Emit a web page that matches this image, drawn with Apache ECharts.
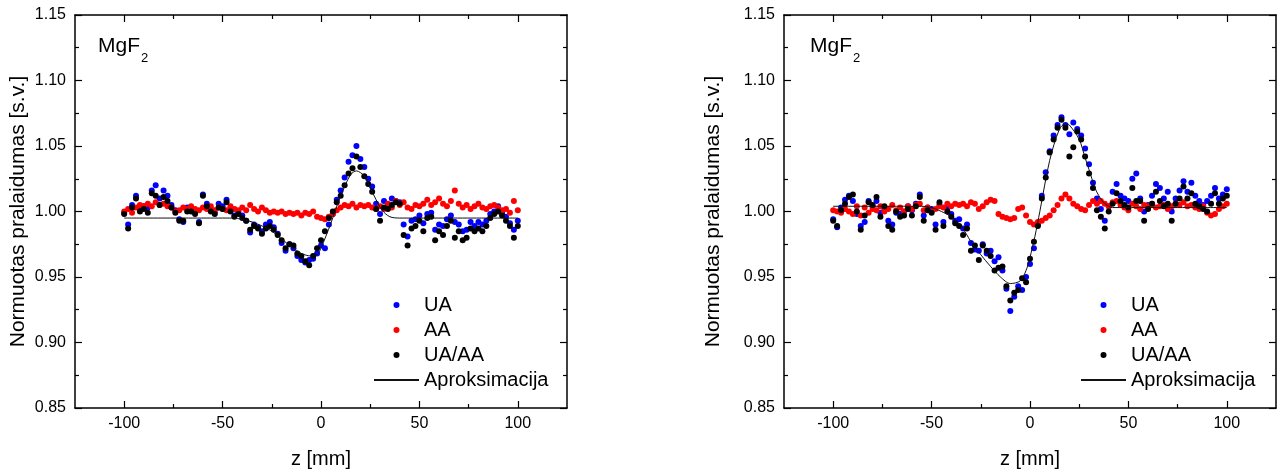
<!DOCTYPE html>
<html><head><meta charset="utf-8">
<script src="https://cdn.jsdelivr.net/npm/echarts@6/dist/echarts.min.js"></script>
<style>html,body{margin:0;padding:0;background:#fff}#c{width:1282px;height:474px}</style>
</head><body><div id="c"></div>
<script>
// ---- data ----
const Z = [-100,-98,-96,-94,-92,-90,-88,-86,-84,-82,
 -80,-78,-76,-74,-72,-70,-68,-66,-64,-62,
 -60,-58,-56,-54,-52,-50,-48,-46,-44,-42,
 -40,-38,-36,-34,-32,-30,-28,-26,-24,-22,
 -20,-18,-16,-14,-12,-10,-8,-6,-4,-2,
 0,2,4,6,8,10,12,14,16,18,
 20,22,24,26,28,30,32,34,36,38,
 40,42,44,46,48,50,52,54,56,58,
 60,62,64,66,68,70,72,74,76,78,
 80,82,84,86,88,90,92,94,96,98,
 100];

const LEFT_UA = [0.999,0.990,1.005,1.012,1.002,1.004,1.003,1.016,1.020,1.010,
 1.016,1.012,1.005,1.001,0.994,0.992,1.003,1.002,1.000,0.992,
 1.013,1.006,1.002,0.999,1.006,1.004,1.009,1.002,0.997,1.000,
 0.997,0.993,0.984,0.990,0.988,0.985,0.990,0.992,0.988,0.983,
 0.976,0.970,0.975,0.972,0.966,0.963,0.961,0.963,0.964,0.968,
 0.974,0.972,0.990,0.998,1.009,1.016,1.026,1.038,1.043,1.050,
 1.040,1.034,1.025,1.019,1.006,0.998,1.008,1.005,1.010,1.008,
 1.007,0.990,0.981,0.993,0.994,0.997,0.991,0.998,0.999,0.986,
 0.990,0.989,0.994,0.997,0.992,0.990,0.985,0.986,0.992,0.989,
 0.992,0.990,0.993,0.998,1.000,1.004,0.999,0.996,0.991,0.986,
 0.993];
const LEFT_AA = [1.000,1.002,0.999,1.003,1.005,1.004,1.006,1.004,1.007,1.005,
 1.006,1.004,1.003,1.000,1.001,1.003,1.002,1.004,1.002,1.001,
 1.003,1.002,1.004,1.001,1.003,1.002,1.001,1.004,1.002,1.001,
 1.003,1.001,1.005,1.002,1.000,1.003,1.001,0.999,1.000,0.999,
 1.000,0.998,0.999,0.998,0.999,0.997,0.999,0.998,1.000,0.996,
 0.995,0.994,0.996,0.998,1.001,1.003,1.005,1.004,1.006,1.003,
 1.005,1.004,1.005,1.003,1.002,1.004,1.002,1.006,1.003,1.008,
 1.005,1.007,1.003,1.002,1.005,1.004,1.006,1.009,1.005,1.007,
 1.010,1.006,1.004,1.008,1.016,1.006,1.003,1.005,1.002,1.004,
 1.006,1.003,1.002,1.004,1.005,1.003,1.001,1.002,0.999,1.008,
 1.001];
const LEFT_RATIO = [0.998,0.987,1.003,1.010,1.000,1.002,0.999,1.014,1.012,1.005,
 1.011,1.008,1.003,0.999,0.993,0.993,1.000,1.000,0.998,0.991,
 1.012,1.004,1.000,0.998,1.003,1.002,1.007,1.000,0.996,0.998,
 0.995,0.993,0.986,0.989,0.987,0.983,0.987,0.989,0.986,0.982,
 0.978,0.972,0.975,0.974,0.968,0.966,0.962,0.959,0.966,0.972,
 0.978,0.985,0.995,1.000,1.007,1.012,1.020,1.029,1.033,1.042,
 1.034,1.027,1.021,1.015,1.002,0.993,1.003,1.002,1.005,1.007,
 1.006,0.982,0.974,0.987,0.989,0.993,0.985,0.995,0.996,0.978,
 0.985,0.982,0.989,0.993,0.980,0.985,0.978,0.980,0.987,0.985,
 0.987,0.985,0.989,0.995,0.998,1.000,0.997,0.993,0.989,0.980,
 0.989];
const LEFT_FIT_Z = [-100,-45,-40,-35,-30,-25,-20,-15,-10,-5,-2,0,5,10,15,18,22,25,28,31,35,40,100];
const LEFT_FIT_V = [0.995,0.995,0.994,0.992,0.989,0.985,0.979,0.973,0.968,0.966,0.967,0.972,0.991,1.012,1.028,1.031,1.027,1.018,1.009,1.001,0.996,0.995,0.995];

const RIGHT_UA = [0.994,0.988,1.003,1.009,1.012,1.008,0.998,0.989,0.992,1.008,
 1.004,1.008,0.999,1.002,0.993,0.990,0.999,0.998,1.000,1.004,
 1.001,1.006,1.013,0.997,1.003,1.002,0.990,1.005,0.992,1.003,
 0.998,0.993,0.994,0.987,0.990,0.976,0.971,0.970,0.975,0.968,
 0.970,0.962,0.965,0.955,0.941,0.924,0.935,0.943,0.940,0.950,
 0.960,0.972,0.990,1.012,1.030,1.046,1.058,1.066,1.072,1.066,
 1.059,1.068,1.063,1.058,1.048,1.036,1.022,1.010,1.002,0.993,
 1.004,1.015,1.021,1.012,1.010,1.008,1.025,1.029,1.010,1.000,
 1.005,1.012,1.021,1.018,1.010,1.015,1.000,1.010,1.016,1.023,
 1.015,1.022,1.012,1.008,1.005,1.008,1.012,1.018,1.010,1.013,
 1.017];
const RIGHT_AA = [1.001,1.000,0.999,1.002,1.000,0.998,1.004,0.997,1.003,0.999,
 1.002,1.001,1.004,1.000,1.002,1.005,1.001,1.003,1.000,1.004,
 1.002,1.005,1.006,1.001,1.003,1.000,1.002,1.004,1.003,1.006,
 1.004,1.006,1.005,1.006,1.004,1.007,1.006,1.002,1.004,1.007,
 1.009,1.008,0.998,0.996,0.995,0.994,0.995,1.002,1.003,0.997,
 0.992,0.990,0.992,0.993,0.995,0.997,1.001,1.005,1.010,1.013,
 1.010,1.006,1.004,1.002,1.001,1.005,1.008,1.006,1.008,1.006,
 1.004,1.007,1.008,1.005,1.003,1.001,1.006,1.004,1.002,1.005,
 1.004,1.006,1.003,1.004,1.005,1.002,1.004,1.006,1.005,1.007,
 1.004,1.005,1.003,1.002,1.004,0.999,0.997,0.998,1.002,1.004,
 1.006];
const RIGHT_RATIO = [0.993,0.989,1.001,1.006,1.011,1.013,1.000,0.986,0.997,1.007,
 1.005,1.011,0.996,1.004,0.989,0.986,1.000,0.996,0.997,1.002,
 0.997,1.004,1.011,0.993,1.001,0.999,0.986,1.007,0.989,1.000,
 0.996,0.991,0.989,0.982,0.987,0.970,0.974,0.963,0.974,0.970,
 0.966,0.955,0.957,0.958,0.943,0.932,0.938,0.940,0.949,0.946,
 0.964,0.977,0.989,1.010,1.026,1.045,1.055,1.064,1.070,1.064,
 1.042,1.049,1.061,1.055,1.042,1.029,1.018,1.001,0.996,0.987,
 1.000,1.006,1.014,1.008,1.005,1.003,1.018,1.008,1.008,0.993,
 1.002,1.006,1.015,1.008,1.004,1.006,0.993,1.006,1.010,1.019,
 1.010,1.014,1.006,1.004,1.002,1.000,1.006,1.014,1.006,1.010,
 1.012];
const RIGHT_FIT_Z = [-100,-55,-50,-45,-40,-35,-30,-25,-20,-15,-10,-5,-2,0,2.5,5,10,15,18,20,25,28,30,33,35,38,42,100];
const RIGHT_FIT_V = [1.004,1.004,1.003,1.000,0.996,0.989,0.977,0.967,0.958,0.950,0.945,0.947,0.955,0.965,0.981,1.000,1.039,1.063,1.067,1.066,1.055,1.041,1.032,1.018,1.012,1.006,1.003,1.003];

const X_LABELS = [-100, -50, 0, 50, 100];
const X_MINOR = [-75, -25, 25, 75];
const LEGEND_NAMES = ['UA', 'AA', 'UA/AA', 'Aproksimacija'];
const Y_TITLE = 'Normuotas pralaidumas [s.v.]';
const X_TITLE = 'z [mm]';
const SAMPLE = 'MgF';
const SAMPLE_SUB = '2';

// ---- chart ----
const FONT = '"Liberation Sans", Arial, sans-serif';
const INK = '#000';
const pairs = (xs, ys) => xs.map((x, i) => [x, ys[i]]);

const grids = [
  { left: 75, top: 15, width: 492, height: 396 },
  { left: 784, top: 15, width: 492, height: 396 }
];
const yNameGaps = [46, 60];
const legendLeft = [368, 1075];
const sampleX = [98, 810];

const lineStyle = { color: INK, width: 1.5 };
const tickStyle = { color: INK, width: 1.2 };

const xAxis = [];
const yAxis = [];
grids.forEach((g, gi) => {
  const base = { gridIndex: gi, type: 'value', min: -125, max: 125, splitLine: { show: false } };
  xAxis.push({ ...base, position: 'bottom', name: X_TITLE, nameLocation: 'middle', nameGap: 41,
    nameTextStyle: { fontSize: 20, color: INK, fontFamily: FONT },
    axisLine: { show: true, onZero: false, lineStyle },
    axisTick: { show: true, inside: true, length: 7, customValues: X_LABELS, lineStyle: tickStyle },
    axisLabel: { show: true, customValues: X_LABELS, margin: 8, fontSize: 16, color: INK, fontFamily: FONT } });
  xAxis.push({ ...base, position: 'top',
    axisLine: { show: true, onZero: false, lineStyle },
    axisTick: { show: true, inside: true, length: 7, customValues: X_LABELS, lineStyle: tickStyle },
    axisLabel: { show: false } });
  xAxis.push({ ...base, position: 'bottom',
    axisLine: { show: false, onZero: false },
    axisTick: { show: true, inside: true, length: 4, customValues: X_MINOR, lineStyle: tickStyle },
    axisLabel: { show: false } });
  xAxis.push({ ...base, position: 'top',
    axisLine: { show: false, onZero: false },
    axisTick: { show: true, inside: true, length: 4, customValues: X_MINOR, lineStyle: tickStyle },
    axisLabel: { show: false } });
  const ybase = { gridIndex: gi, type: 'value', min: 0.85, max: 1.15, interval: 0.05,
    splitLine: { show: false }, minorSplitLine: { show: false },
    axisLine: { show: true, onZero: false, lineStyle },
    axisTick: { show: true, inside: true, length: 7, lineStyle: tickStyle },
    minorTick: { show: true, splitNumber: 2, length: 4, lineStyle: tickStyle } };
  yAxis.push({ ...ybase, position: 'left', name: Y_TITLE, nameLocation: 'middle', nameGap: yNameGaps[gi],
    nameRotate: 90, nameTextStyle: { fontSize: 21, color: INK, fontFamily: FONT },
    axisLabel: { show: true, margin: 9, fontSize: 16, color: INK, fontFamily: FONT, formatter: v => v.toFixed(2) } });
  yAxis.push({ ...ybase, position: 'right', axisLabel: { show: false } });
});

const panels = [
  { ua: LEFT_UA, aa: LEFT_AA, ratio: LEFT_RATIO, fz: LEFT_FIT_Z, fv: LEFT_FIT_V },
  { ua: RIGHT_UA, aa: RIGHT_AA, ratio: RIGHT_RATIO, fz: RIGHT_FIT_Z, fv: RIGHT_FIT_V }
];
const series = [];
panels.forEach((p, gi) => {
  const xi = gi * 4, yi = gi * 2;
  const sc = (name, data, color) => ({ name, type: 'scatter', xAxisIndex: xi, yAxisIndex: yi,
    data: pairs(Z, data), symbol: 'circle', symbolSize: 6, itemStyle: { color, opacity: 1 },
    emphasis: { disabled: true }, animation: false });
  series.push(sc(LEGEND_NAMES[0], p.ua, '#0000ff'));
  series.push(sc(LEGEND_NAMES[1], p.aa, '#ff0000'));
  series.push(sc(LEGEND_NAMES[2], p.ratio, '#000000'));
  series.push({ name: LEGEND_NAMES[3], type: 'line', xAxisIndex: xi, yAxisIndex: yi,
    data: pairs(p.fz, p.fv), symbol: 'none', smooth: 0.3, itemStyle: { color: '#111' },
    lineStyle: { color: '#111', width: 1 }, emphasis: { disabled: true }, animation: false, z: 3 });
});

const legendData = LEGEND_NAMES.map((n, i) => i === 3 ? { name: n, itemStyle: { opacity: 0 } } : { name: n });
const legend = grids.map((g, gi) => ({
  data: legendData, orient: 'vertical', left: legendLeft[gi], top: 290,
  itemWidth: 45, itemHeight: 6, itemGap: 5, selectedMode: false,
  textStyle: { fontSize: 20, lineHeight: 20, color: INK, fontFamily: FONT }
}));

const graphic = [];
sampleX.forEach(x => {
  graphic.push({ type: 'text', x: x, y: 36, style: { text: SAMPLE, fontSize: 21, fontFamily: FONT, fill: INK, verticalAlign: 'top' } });
  graphic.push({ type: 'text', x: x + 43, y: 52, style: { text: SAMPLE_SUB, fontSize: 13, fontFamily: FONT, fill: INK, verticalAlign: 'top' } });
});

const chart = echarts.init(document.getElementById('c'), null, { renderer: 'canvas' });
chart.setOption({
  animation: false,
  backgroundColor: '#fff',
  grid: grids.map(g => ({ ...g, containLabel: false })),
  xAxis, yAxis, series, legend, graphic
});
</script></body></html>
